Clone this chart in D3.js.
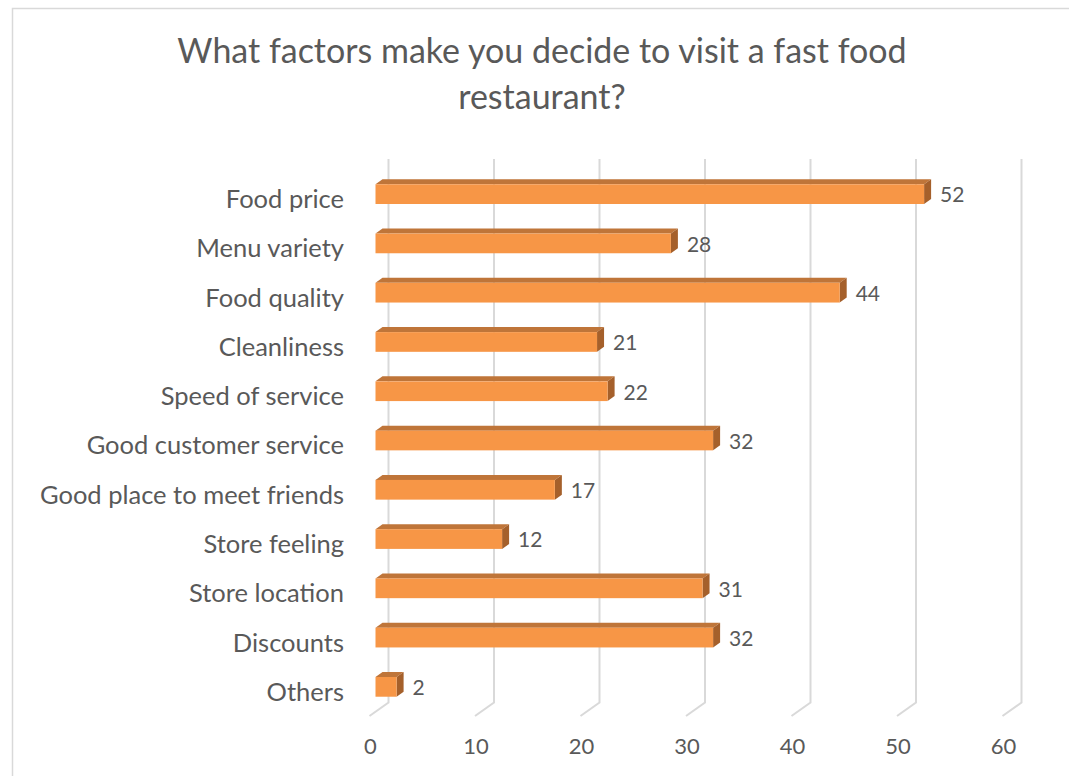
<!DOCTYPE html>
<html>
<head>
<meta charset="utf-8">
<script src="https://cdn.jsdelivr.net/npm/d3@7"></script>
<style>
  body { margin: 0; background: #fff; }
  text { font-family: Lato, "Open Sans", sans-serif; fill: #595959; }
</style>
</head>
<body>
<div id="chart"></div>
<script>
const w = 1069;
const h = 776;

const categories = [
  "Food price",
  "Menu variety",
  "Food quality",
  "Cleanliness",
  "Speed of service",
  "Good customer service",
  "Good place to meet friends",
  "Store feeling",
  "Store location",
  "Discounts",
  "Others",
];
const values = [52, 28, 44, 21, 22, 32, 17, 12, 31, 32, 2];
const ticks = [0, 10, 20, 30, 40, 50, 60];
const titleLines = ["What factors make you decide to visit a fast food", "restaurant?"];

// 3d offsets (oblique projection like excel)
const wallShift = 13; // back wall is to the right of bar front
const floorDx = -19;
const floorDy = 13.5;
const barDx = 7;
const barDy = 5;

const svg = d3
  .select("#chart")
  .append("svg")
  .attr("width", w)
  .attr("height", h);

// chart border
svg
  .append("rect")
  .attr("x", 12.5)
  .attr("y", 8.5)
  .attr("width", w + 20)
  .attr("height", h + 20)
  .attr("fill", "none")
  .attr("stroke", "#d9d9d9")
  .attr("stroke-width", 1.5);

// title
svg
  .append("text")
  .attr("text-anchor", "middle")
  .attr("font-size", "34px")
  .selectAll("tspan")
  .data(titleLines)
  .enter()
  .append("tspan")
  .attr("x", 542)
  .attr("y", (d, i) => 63 + i * 46)
  .text((d) => d);

const x = d3.scaleLinear().domain([0, 60]).range([375.5, 1008.5]);
const y = d3
  .scaleBand()
  .domain(categories)
  .range([169.5, 711.5])
  .paddingInner(0.6)
  .paddingOuter(0.3);

const wallTop = 159;
const wallBottom = 702.5;

// gridlines on back wall + floor
const grid = svg.append("g").attr("fill", "none").attr("stroke", "#d9d9d9").attr("stroke-width", 2);
grid
  .selectAll("path")
  .data(ticks)
  .enter()
  .append("path")
  .attr("d", (d) => {
    const bx = x(d) + wallShift;
    return `M${bx},${wallTop}V${wallBottom}L${bx + floorDx},${wallBottom + floorDy}`;
  });

// tick labels
svg
  .append("g")
  .selectAll("text")
  .data(ticks)
  .enter()
  .append("text")
  .attr("x", (d) => x(d) + wallShift + floorDx + 1)
  .attr("y", 746)
  .attr("dy", "0.35em")
  .attr("text-anchor", "middle")
  .attr("font-size", "22px")
  .text((d) => d);

// category labels
svg
  .append("g")
  .selectAll("text")
  .data(categories)
  .enter()
  .append("text")
  .attr("x", 344)
  .attr("y", (d) => y(d) + y.bandwidth() / 2 + 5)
  .attr("dy", "0.35em")
  .attr("text-anchor", "end")
  .attr("font-size", "25.5px")
  .text((d) => d);

const bars = categories.map((c, i) => ({ cat: c, val: values[i] }));

const barG = svg.append("g").selectAll("g").data(bars).enter().append("g");

// top face
barG
  .append("path")
  .attr("fill", "#bf7539")
  .attr("d", (d) => {
    const x0 = x(0);
    const x1 = x(d.val);
    const t = y(d.cat);
    return `M${x0},${t}L${x0 + barDx},${t - barDy}L${x1 + barDx},${t - barDy}L${x1},${t}Z`;
  });

// side face
barG
  .append("path")
  .attr("fill", "#a5602b")
  .attr("d", (d) => {
    const x1 = x(d.val);
    const t = y(d.cat);
    const b = t + y.bandwidth();
    return `M${x1},${t}L${x1 + barDx},${t - barDy}L${x1 + barDx},${b - barDy}L${x1},${b}Z`;
  });

// front face
barG
  .append("rect")
  .attr("fill", "#f79646")
  .attr("x", x(0))
  .attr("y", (d) => y(d.cat))
  .attr("width", (d) => x(d.val) - x(0))
  .attr("height", y.bandwidth());

// value labels
barG
  .append("text")
  .attr("x", (d) => x(d.val) + barDx + 9)
  .attr("y", (d) => y(d.cat) + y.bandwidth() / 2 + 1)
  .attr("dy", "0.35em")
  .attr("font-size", "21px")
  .text((d) => d.val);
</script>
</body>
</html>
